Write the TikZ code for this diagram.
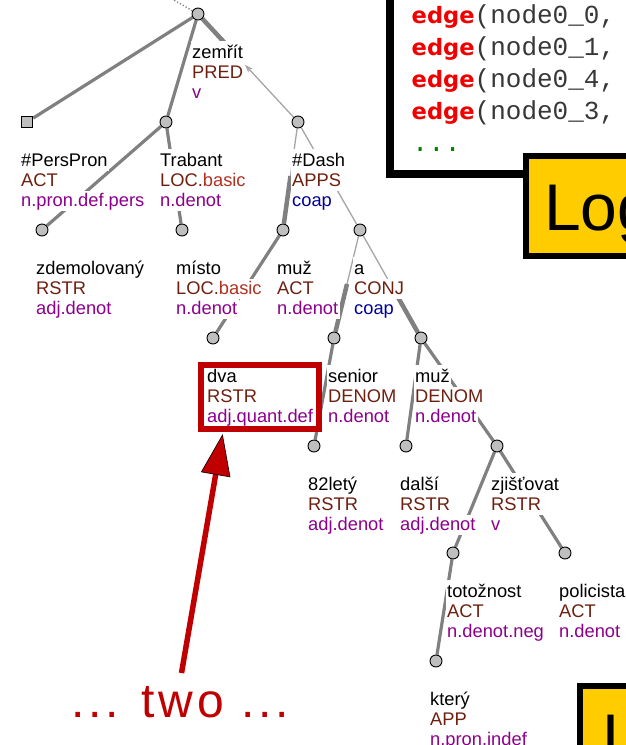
\documentclass[tikz,border=0pt]{standalone}
\usepackage{fontspec}
\setmainfont{Liberation Sans}
\newfontfamily\kwfont{DejaVu Sans}
\newfontfamily\cdfont{Liberation Mono}
\newfontfamily\twofont[LetterSpace=8]{Liberation Sans}
\usetikzlibrary{calc,arrows.meta}
\pgfdeclarelayer{edges}
\pgfsetlayers{edges,main}
\definecolor{fnc}{RGB}{110,32,16}
\definecolor{fnb}{RGB}{175,50,35}
\definecolor{typ}{RGB}{140,0,140}
\definecolor{coa}{RGB}{0,0,155}
\definecolor{edg}{RGB}{128,128,128}
\definecolor{edt}{RGB}{165,165,165}
\definecolor{hl}{RGB}{192,0,0}
\definecolor{kwc}{RGB}{240,0,0}
\definecolor{cod}{RGB}{55,55,55}
\definecolor{dotg}{RGB}{0,128,0}
\definecolor{yel}{RGB}{255,204,0}
\setlength{\fboxsep}{0pt}
\newcommand{\wbA}[1]{\colorbox{white}{\rule[-5pt]{0pt}{22pt}\hspace{1.5pt}#1\hspace{1.5pt}}}
\newcommand{\wbB}[1]{\colorbox{white}{\rule[-5pt]{0pt}{20pt}\hspace{1.5pt}#1\hspace{1.5pt}}}
\newcommand{\tlab}[4][typ]{\wbA{#2}\\\wbB{\textcolor{fnc}{#3}}\\\wbB{\textcolor{#1}{#4}}}
\newcommand{\kw}[1]{{\kwfont\bfseries\fontsize{22.6}{26}\selectfont\color{kwc}#1}}
\newcommand{\cd}[1]{{\cdfont\fontsize{26}{30}\selectfont\color{cod}#1}}
\begin{document}
\begin{tikzpicture}[x=1pt,y=-1pt,
  dot/.style={circle,draw=black,line width=0.9pt,fill=gray!50,minimum size=12pt,inner sep=0pt},
  sq/.style={rectangle,draw=black,line width=0.9pt,fill=gray!50,minimum size=11.5pt,inner sep=0pt},
  lab/.style={anchor=north west,align=left,inner sep=0pt,font=\fontsize{18.3}{20}\selectfont},
  thk/.style={draw=edg,line width=3.2pt},
  thkk/.style={draw=edg,line width=4.5pt},
  thn/.style={draw=edt,line width=1.3pt},
  code/.style={anchor=base west,inner sep=0pt},
  frame/.style={draw=black,line width=#1}]
\useasboundingbox (0,0) rectangle (625,745);
% tree nodes
\node[dot] (root) at (198,14) {};
\node[sq]  (pp) at (27,122) {};
\node[dot] (tr) at (166,122) {};
\node[dot] (da) at (298,122) {};
\node[dot] (zd) at (42,230) {};
\node[dot] (mi) at (182,230) {};
\node[dot] (mu) at (283,230) {};
\node[dot] (aa) at (360,230) {};
\node[dot] (dv) at (213,338) {};
\node[dot] (se) at (334,338) {};
\node[dot] (md) at (421,338) {};
\node[dot] (le) at (314,446) {};
\node[dot] (ds) at (406,446) {};
\node[dot] (zj) at (497,446) {};
\node[dot] (to) at (453,553) {};
\node[dot] (po) at (565,553) {};
\node[dot] (kt) at (436,661) {};
\coordinate (up) at (160,-8);
% labels
\node[lab] (Lroot) at (190.5,41) {\tlab{zemřít}{PRED}{v}};
\node[lab] (Lpp) at (19.5,149) {\tlab{\#PersPron}{ACT}{n.pron.def.pers}};
\node[lab] (Ltr) at (158.5,149) {\tlab{Trabant}{LOC.\textcolor{fnb}{basic}}{n.denot}};
\node[lab] (Lda) at (290.5,149) {\tlab[coa]{\#Dash}{APPS}{coap}};
\node[lab] (Lzd) at (34.5,257) {\tlab{zdemolovaný}{RSTR}{adj.denot}};
\node[lab] (Lmi) at (174.5,257) {\tlab{místo}{LOC.\textcolor{fnb}{basic}}{n.denot}};
\node[lab] (Lmu) at (275.5,257) {\tlab{muž}{ACT}{n.denot}};
\node[lab] (Laa) at (352.5,257) {\tlab[coa]{a}{CONJ}{coap}};
\node[lab] (Ldv) at (205.5,365) {\tlab{dva}{RSTR}{adj.quant.def}};
\node[lab] (Lse) at (326.5,365) {\tlab{senior}{DENOM}{n.denot}};
\node[lab] (Lmd) at (413.5,365) {\tlab{muž}{DENOM}{n.denot}};
\node[lab] (Lle) at (306.5,473) {\tlab{82letý}{RSTR}{adj.denot}};
\node[lab] (Lds) at (398.5,473) {\tlab{další}{RSTR}{adj.denot}};
\node[lab] (Lzj) at (489.5,473) {\tlab{zjišťovat}{RSTR}{v}};
\node[lab] (Lto) at (445.5,580) {\tlab{totožnost}{ACT}{n.denot.neg}};
\node[lab] (Lpo) at (557.5,580) {\tlab{policista}{ACT}{n.denot}};
\node[lab] (Lkt) at (428.5,688) {\tlab{který}{APP}{n.pron.indef}};
% edges
\begin{pgfonlayer}{edges}
\draw[draw=gray,dotted,line width=1.3pt] (root) -- (up);
\draw[thk] (root) -- (pp);
\draw[thk] (root) -- (tr);
\draw[thkk] (root) -- ($(root)!0.45!(da)$);
\draw[thn,-{Stealth[length=8pt,width=5.5pt]}] (da) -- ($(root)!0.47!(da)$);
\draw[thk] (tr) -- (zd);
\draw[thk] (tr) -- (mi);
\draw[thn] (da) -- ($(da)!0.5!(mu)$);
\draw[thkk] ($(da)!0.5!(mu)$) -- (mu);
\draw[thk] (mu) -- (dv);
\draw[thn] (da) -- (aa);
\draw[thn] (aa) -- ($(aa)!0.5!(se)$);
\draw[thkk] ($(aa)!0.5!(se)$) -- (se);
\draw[thn] (aa) -- ($(aa)!0.5!(md)$);
\draw[thkk] ($(aa)!0.5!(md)$) -- (md);
\draw[thk] (se) -- (le);
\draw[thk] (md) -- (ds);
\draw[thk] (md) -- (zj);
\draw[thk] (zj) -- (to);
\draw[thk] (zj) -- (po);
\draw[thk] (to) -- (kt);
\end{pgfonlayer}
% highlight
\node[draw=hl,line width=6pt,minimum width=117.5pt,minimum height=64pt,inner sep=0pt] (hbox) at (259.75,396.5) {};
\coordinate (atail) at (181.5,673);
\coordinate (atip) at (222.5,435);
\coordinate (abase) at (215.7,474.4);
\coordinate (ac1) at (230,476.9);
\coordinate (ac2) at (201.4,471.9);
\draw[hl,line width=5.5pt] (atail) -- (abase);
\filldraw[fill=hl,draw=black,line width=0.6pt] (atip) -- (ac1) -- (ac2) -- cycle;
\node[anchor=base,text=hl,font=\twofont\fontsize{48}{52}\selectfont,inner sep=0pt] (two) at (180,717) {... two ...};
% code box
\draw[frame=8pt,fill=white] (390,-40) rectangle (720,173.5);
\node[code] (c1) at (411.5,23.5) {\kw{edge}\cd{(node0\_0,}};
\node[code] (c2) at (411.5,55.5) {\kw{edge}\cd{(node0\_1,}};
\node[code] (c3) at (411.5,87.5) {\kw{edge}\cd{(node0\_4,}};
\node[code] (c4) at (411.5,119.5) {\kw{edge}\cd{(node0\_3,}};
\node[code] (c5) at (412,151.5) {{\cdfont\fontsize{27}{30}\selectfont\color{dotg}...}};
% yellow boxes
\draw[frame=6pt,fill=yel] (526,156) rectangle (720,256);
\node[anchor=base west,inner sep=0pt,font=\fontsize{66}{70}\selectfont] (log) at (544,230) {Log};
\draw[frame=6pt,fill=yel] (580,685.5) rectangle (720,800);
\node[anchor=base west,inner sep=0pt,font=\fontsize{66}{70}\selectfont] (log2) at (602,760) {L};
\end{tikzpicture}
\end{document}
